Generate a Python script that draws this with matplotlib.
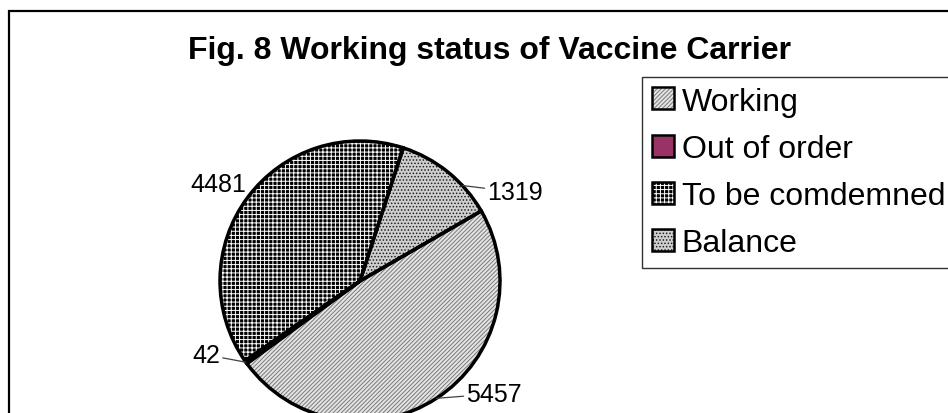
import numpy as np
import matplotlib
matplotlib.use("Agg")
import matplotlib.pyplot as plt
from matplotlib.patches import Patch, Rectangle
from matplotlib.legend_handler import HandlerTuple

plt.rcParams['font.family'] = ['Liberation Sans', 'DejaVu Sans']
plt.rcParams['hatch.linewidth'] = 0.7

# %% data
title = 'Fig. 8 Working status of Vaccine Carrier'
categories = ['Working', 'Out of order', 'To be comdemned', 'Balance']
counts = [5457, 42, 4481, 1319]

# %% styles (fill, hatch colour, hatch pattern)
fills = ['#e4e4e4', '#993366', '#000000', '#cfcfcf']
hatch_cols = ['#7a7a7a', '#993366', '#ffffff', '#202020']
hatches = ['////////', None, '++++', '.....']
# label placement: leader attach shift (deg), offset in px, alignment, leader
lab_da = [0, 0, 0, -8]
lab_dx = [30, -26, -1, 25]
lab_dy = [7, 10, 16, -4]
lab_ha = ['left', 'right', 'right', 'left']
lab_line = [True, True, False, True]

W, H = 948, 414
fig = plt.figure(figsize=(W / 100, H / 100), dpi=100)
ax = fig.add_axes([0, 0, 1, 1])

cx, cy, r = 360, 132, 140
wedges, _ = ax.pie(counts, startangle=30, counterclock=False,
                   center=(cx, cy), radius=r, frame=True)
for w, fc, hc, h in zip(wedges, fills, hatch_cols, hatches):
    w.set_facecolor(fc)
    w.set_edgecolor(hc)
    w.set_linewidth(0)
    if h:
        w.set_hatch(h)

# outlines on top
outl, _ = ax.pie(counts, startangle=30, counterclock=False,
                 center=(cx, cy), radius=r, frame=True,
                 wedgeprops=dict(fill=False, edgecolor='black', linewidth=2.5))

# data labels with leader lines
for w, n, da, dx, dy, ha, line in zip(wedges, counts, lab_da, lab_dx, lab_dy,
                                      lab_ha, lab_line):
    mid = np.deg2rad((w.theta1 + w.theta2) / 2 + da)
    px = cx + r * np.cos(mid)
    py = cy + r * np.sin(mid)
    arrow = dict(arrowstyle='-', color='#404040', lw=0.9,
                 shrinkA=0, shrinkB=0) if line else None
    ax.annotate(str(n), xy=(px, py), xytext=(px + dx, py + dy),
                ha=ha, va='center_baseline', fontsize=18, color='black',
                arrowprops=arrow)

ax.set_xlim(0, W)
ax.set_ylim(0, H)
ax.set_axis_off()

# title
fig.text(489 / W, 1 - 47 / H, title, ha='center', va='center_baseline',
         fontsize=23, fontweight='bold')

# legend
handles = []
for fc, hc, h in zip(fills, hatch_cols, hatches):
    fill = Patch(facecolor=fc, edgecolor=hc, hatch=h, linewidth=0)
    outline = Patch(fill=False, edgecolor='black', linewidth=1.8)
    handles.append((fill, outline))
leg = fig.legend(handles, categories, handler_map={tuple: HandlerTuple()},
                 loc='upper left', bbox_to_anchor=(642 / W, 1 - 78 / H),
                 borderaxespad=0, fontsize=23, handlelength=0.69,
                 handleheight=0.69, handletextpad=0.25, labelspacing=0.54,
                 borderpad=0.3, fancybox=False, framealpha=1)
leg.get_frame().set_edgecolor('#303030')
leg.get_frame().set_linewidth(1.0)

# chart border (cut off at right and bottom)
fig.add_artist(Rectangle((9 / W, -0.1), 1.2, 1 - 12 / H + 0.1,
                         transform=fig.transFigure, fill=False,
                         edgecolor='black', linewidth=1.6))

fig.savefig('out.png', dpi=100)
